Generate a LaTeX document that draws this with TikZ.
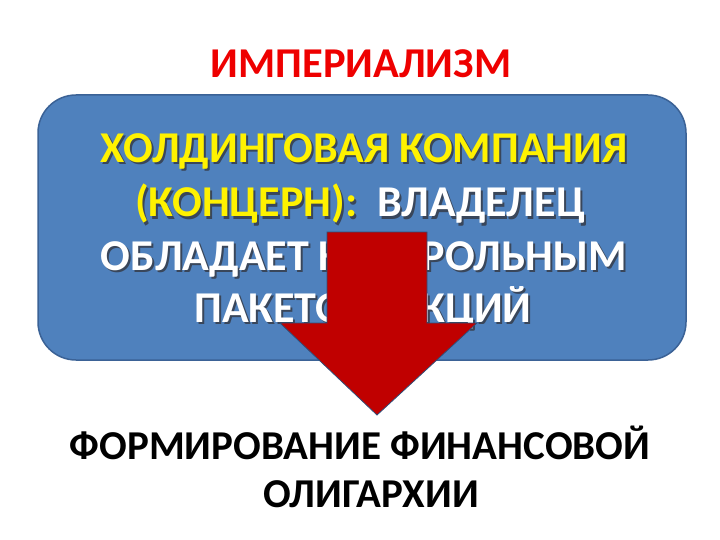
\documentclass[tikz,border=0pt]{standalone}
\usepackage{fontspec}
\setmainfont{Carlito}
\usepackage{tikz}
\usetikzlibrary{calc}
\definecolor{boxblue}{HTML}{4F81BD}
\definecolor{boxedge}{HTML}{3B6296}
\definecolor{arrowred}{HTML}{C00000}
\definecolor{titlered}{HTML}{EE0000}
\definecolor{shadowgray}{HTML}{39465A}
\newcommand{\shadowed}[2]{\leavevmode\rlap{\kern2pt\raisebox{-2pt}{\textcolor{shadowgray}{#2}}}\textcolor{#1}{#2}}
\tikzset{
  heading/.style={anchor=base,inner sep=0pt,font=\fontsize{41}{49}\selectfont\bfseries},
  boxline/.style={anchor=base,inner sep=0pt,font=\fontsize{44}{53}\selectfont\bfseries},
  holding/.style={draw=boxedge,line width=1.5pt,fill=boxblue,rounded corners=38pt,
    minimum width=648pt,minimum height=265pt,inner sep=0pt},
  blockarrow/.style={draw=boxedge!80!black,line width=0.8pt,fill=arrowred,line join=miter}
}

\begin{document}
\begin{tikzpicture}[x=1pt,y=-1pt]
  \useasboundingbox (0,0) rectangle (720,540);

  % Title
  \node[heading,text=titlered,font=\fontsize{42.5}{50}\selectfont\bfseries] (title) at (361,78) {ИМПЕРИАЛИЗМ};

  % Box
  \node[holding] (box) at (362,227.5) {};
  \node[boxline] (l1) at (364,163) {\shadowed{yellow}{ХОЛДИНГОВАЯ КОМПАНИЯ}};
  \node[boxline] (l2) at (360,217) {\shadowed{yellow}{(КОНЦЕРН):}\ \ \shadowed{white}{ВЛАДЕЛЕЦ}};
  \node[boxline] (l3) at (364,270) {\shadowed{white}{ОБЛАДАЕТ КОНТРОЛЬНЫМ}};
  \node[boxline] (l4) at (363,322) {\shadowed{white}{ПАКЕТОМ АКЦИЙ}};

  % Arrow
  \coordinate (a1) at (327,232);
  \coordinate (a2) at (427,232);
  \coordinate (a3) at (427,323);
  \coordinate (a4) at (477,323);
  \coordinate (tip) at (377,415);
  \coordinate (a6) at (280,323);
  \coordinate (a7) at (327,323);
  \draw[blockarrow] (a1) -- (a2) -- (a3) -- (a4) -- (tip) -- (a6) -- (a7) -- cycle;

  % Result
  \node[heading] (r1) at (360,459) {ФОРМИРОВАНИЕ ФИНАНСОВОЙ};
  \node[heading] (r2) at (371,507) {ОЛИГАРХИИ};
\end{tikzpicture}
\end{document}
